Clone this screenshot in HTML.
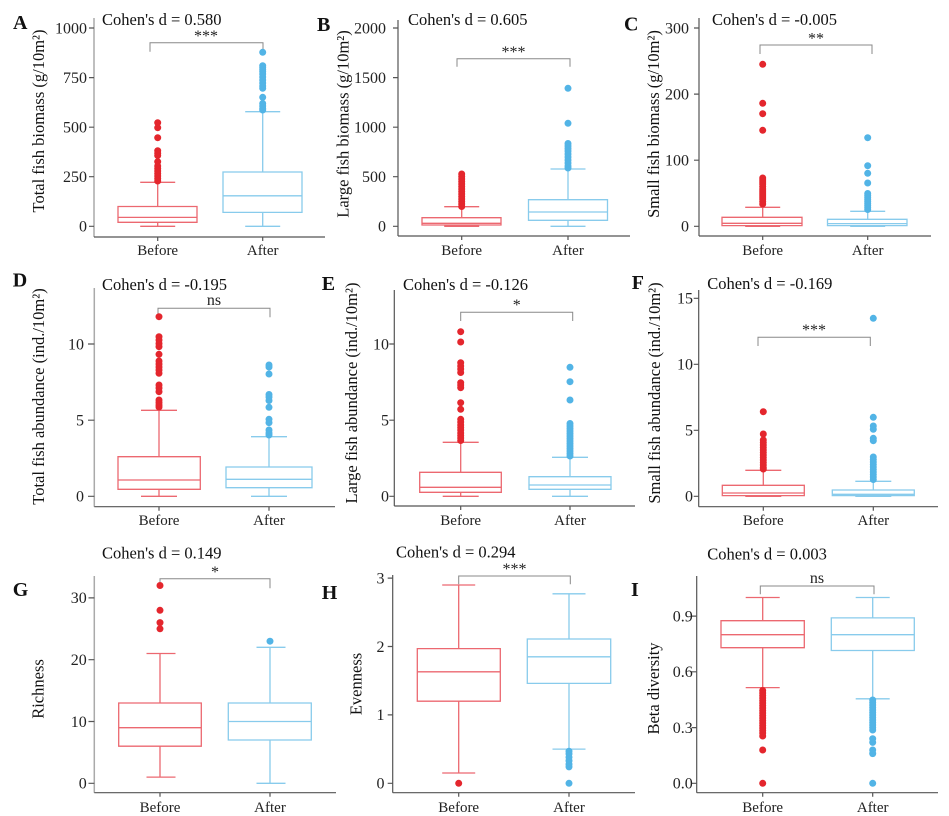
<!DOCTYPE html>
<html><head><meta charset="utf-8"><style>
html,body{margin:0;padding:0;background:#fff;}
svg{display:block;font-family:"Liberation Serif",serif;}
.ax{stroke:#555;stroke-width:1.2;fill:none}
.axl{stroke:#aaa;stroke-width:1.5;fill:none}
.rb{stroke:#ec6870;stroke-width:1.3;fill:none}
.bb{stroke:#88cbec;stroke-width:1.3;fill:none}
.br{stroke:#888;stroke-width:1;fill:none}
.rd circle{fill:#e4262d}
.bd circle{fill:#52b4e6}
.tk{font-size:16px;fill:#222;text-anchor:end}
.ct{font-size:15px;fill:#222;text-anchor:middle}
.yl{font-size:16.5px;fill:#111;text-anchor:middle}
.co{font-size:16.5px;fill:#111}
.pl{font-size:20px;font-weight:bold;fill:#111}
.sg{font-size:16px;fill:#222;text-anchor:middle}
</style></head><body>
<svg width="949" height="816" viewBox="0 0 949 816" xmlns="http://www.w3.org/2000/svg">
<rect width="949" height="816" fill="#fff"/>

<!-- ===== Panel A ===== -->
<text class="pl" x="13" y="29">A</text>
<text class="co" x="102" y="25">Cohen's d = 0.580</text>
<text class="yl" transform="translate(44,121) rotate(-90)">Total fish biomass (g/10m²)</text>
<path class="axl" d="M94 18V237"/>
<path class="ax" d="M94 237H325 M157.7 237V241 M262.7 237V241 M89 226.3H94 M89 176.7H94 M89 127.2H94 M89 77.6H94 M89 28H94"/>
<text class="tk" x="87" y="231.6">0</text>
<text class="tk" x="87" y="182">250</text>
<text class="tk" x="87" y="132.5">500</text>
<text class="tk" x="87" y="82.9">750</text>
<text class="tk" x="87" y="33.3">1000</text>
<text class="ct" x="157.7" y="255">Before</text>
<text class="ct" x="262.7" y="255">After</text>
<path class="br" d="M150 51.7V42.7H263V51.7"/>
<text class="sg" x="206" y="41">***</text>
<path class="rb" d="M118 206.5H197V222.3H118Z M118 217.4H197 M157.7 206.5V182.3 M157.7 222.3V226.3 M140.2 182.3H175.2 M140.2 226.3H175.2"/>
<path class="bb" d="M223 172H302V212.4H223Z M223 195.8H302 M262.7 172V111.7 M262.7 212.4V226.3 M245.2 111.7H280.2 M245.2 226.3H280.2"/>
<g class="rd"><circle cx="157.7" cy="122.7" r="3.5"/><circle cx="157.7" cy="127.7" r="3.5"/><circle cx="157.7" cy="137.7" r="3.5"/><circle cx="157.7" cy="150.7" r="3.5"/><circle cx="157.7" cy="153.3" r="3.5"/><circle cx="157.7" cy="155.5" r="3.5"/><circle cx="157.7" cy="161.7" r="3.5"/><circle cx="157.7" cy="166" r="3.5"/><circle cx="157.7" cy="168.5" r="3.5"/><circle cx="157.7" cy="171" r="3.5"/><circle cx="157.7" cy="173.5" r="3.5"/><circle cx="157.7" cy="176" r="3.5"/><circle cx="157.7" cy="178.5" r="3.5"/><circle cx="157.7" cy="181" r="3.5"/></g>
<g class="bd"><circle cx="262.7" cy="52.3" r="3.5"/><circle cx="262.7" cy="65.7" r="3.5"/><circle cx="262.7" cy="67.5" r="3.5"/><circle cx="262.7" cy="69.5" r="3.5"/><circle cx="262.7" cy="71.5" r="3.5"/><circle cx="262.7" cy="74" r="3.5"/><circle cx="262.7" cy="77" r="3.5"/><circle cx="262.7" cy="80" r="3.5"/><circle cx="262.7" cy="83" r="3.5"/><circle cx="262.7" cy="86" r="3.5"/><circle cx="262.7" cy="88.3" r="3.5"/><circle cx="262.7" cy="97.3" r="3.5"/><circle cx="262.7" cy="103.5" r="3.5"/><circle cx="262.7" cy="106" r="3.5"/><circle cx="262.7" cy="108.5" r="3.5"/><circle cx="262.7" cy="110" r="3.5"/></g>

<!-- ===== Panel B ===== -->
<text class="pl" x="317" y="31">B</text>
<text class="co" x="408" y="25">Cohen's d = 0.605</text>
<text class="yl" transform="translate(348.5,124) rotate(-90)">Large fish biomass (g/10m²)</text>
<path class="ax" d="M398 20V236 M398 236H630 M461.7 236V240 M568 236V240 M393 226.3H398 M393 176.7H398 M393 127.2H398 M393 77.6H398 M393 28H398"/>
<text class="tk" x="386" y="231.6">0</text>
<text class="tk" x="386" y="182">500</text>
<text class="tk" x="386" y="132.5">1000</text>
<text class="tk" x="386" y="82.9">1500</text>
<text class="tk" x="386" y="33.3">2000</text>
<text class="ct" x="461.7" y="255">Before</text>
<text class="ct" x="568" y="255">After</text>
<path class="br" d="M457 66.7V58.7H570V66.7"/>
<text class="sg" x="513.5" y="57">***</text>
<path class="rb" d="M422 217.7H501V225H422Z M422 223.3H501 M461.7 217.7V206.7 M461.7 225V226.3 M444.2 206.7H479.2 M444.2 226.3H479.2"/>
<path class="bb" d="M528.5 199.7H607.5V220.3H528.5Z M528.5 212H607.5 M568 199.7V169 M568 220.3V226.3 M550.5 169H585.5 M550.5 226.3H585.5"/>
<g class="rd"><circle cx="461.7" cy="174" r="3.5"/><circle cx="461.7" cy="176.5" r="3.5"/><circle cx="461.7" cy="179" r="3.5"/><circle cx="461.7" cy="181.5" r="3.5"/><circle cx="461.7" cy="184" r="3.5"/><circle cx="461.7" cy="186.5" r="3.5"/><circle cx="461.7" cy="189" r="3.5"/><circle cx="461.7" cy="191.5" r="3.5"/><circle cx="461.7" cy="194" r="3.5"/><circle cx="461.7" cy="196.5" r="3.5"/><circle cx="461.7" cy="199" r="3.5"/><circle cx="461.7" cy="201.5" r="3.5"/><circle cx="461.7" cy="204" r="3.5"/><circle cx="461.7" cy="206.5" r="3.5"/></g>
<g class="bd"><circle cx="568" cy="88.3" r="3.5"/><circle cx="568" cy="123.3" r="3.5"/><circle cx="568" cy="143.5" r="3.5"/><circle cx="568" cy="146" r="3.5"/><circle cx="568" cy="148.5" r="3.5"/><circle cx="568" cy="151" r="3.5"/><circle cx="568" cy="154" r="3.5"/><circle cx="568" cy="157" r="3.5"/><circle cx="568" cy="160" r="3.5"/><circle cx="568" cy="163" r="3.5"/><circle cx="568" cy="166" r="3.5"/><circle cx="568" cy="168" r="3.5"/></g>

<!-- ===== Panel C ===== -->
<text class="pl" x="624" y="30.5">C</text>
<text class="co" x="712" y="25">Cohen's d = -0.005</text>
<text class="yl" transform="translate(659,124) rotate(-90)">Small fish biomass (g/10m²)</text>
<path class="ax" d="M699 18V236 M699 236H931 M762.7 236V240 M867.7 236V240 M694 226.3H699 M694 160.2H699 M694 94.1H699 M694 28H699"/>
<text class="tk" x="689" y="231.6">0</text>
<text class="tk" x="689" y="165.5">100</text>
<text class="tk" x="689" y="99.4">200</text>
<text class="tk" x="689" y="33.3">300</text>
<text class="ct" x="762.7" y="255">Before</text>
<text class="ct" x="867.7" y="255">After</text>
<path class="br" d="M760 54V45H872V54"/>
<text class="sg" x="816" y="43.5">**</text>
<path class="rb" d="M722 217.3H802V225.6H722Z M722 223.3H802 M762.7 217.3V207.3 M762.7 225.6V226.3 M745.2 207.3H780.2 M745.2 226.3H780.2"/>
<path class="bb" d="M827.5 219.3H907V225.6H827.5Z M827.5 223.6H907 M867.7 219.3V211.3 M867.7 225.6V226.3 M850.2 211.3H885.2 M850.2 226.3H885.2"/>
<g class="rd"><circle cx="762.7" cy="64.3" r="3.5"/><circle cx="762.7" cy="103.3" r="3.5"/><circle cx="762.7" cy="113.7" r="3.5"/><circle cx="762.7" cy="130.3" r="3.5"/><circle cx="762.7" cy="178" r="3.5"/><circle cx="762.7" cy="180" r="3.5"/><circle cx="762.7" cy="182" r="3.5"/><circle cx="762.7" cy="184" r="3.5"/><circle cx="762.7" cy="186.5" r="3.5"/><circle cx="762.7" cy="189" r="3.5"/><circle cx="762.7" cy="191" r="3.5"/><circle cx="762.7" cy="193" r="3.5"/><circle cx="762.7" cy="195" r="3.5"/><circle cx="762.7" cy="197" r="3.5"/><circle cx="762.7" cy="199" r="3.5"/><circle cx="762.7" cy="201.5" r="3.5"/><circle cx="762.7" cy="204" r="3.5"/></g>
<g class="bd"><circle cx="867.7" cy="137.7" r="3.5"/><circle cx="867.7" cy="165.7" r="3.5"/><circle cx="867.7" cy="173.3" r="3.5"/><circle cx="867.7" cy="183" r="3.5"/><circle cx="867.7" cy="193.5" r="3.5"/><circle cx="867.7" cy="195.5" r="3.5"/><circle cx="867.7" cy="197.5" r="3.5"/><circle cx="867.7" cy="199.5" r="3.5"/><circle cx="867.7" cy="201.5" r="3.5"/><circle cx="867.7" cy="203.5" r="3.5"/><circle cx="867.7" cy="205.5" r="3.5"/><circle cx="867.7" cy="207.5" r="3.5"/><circle cx="867.7" cy="209.5" r="3.5"/></g>

<!-- ===== Panel D ===== -->
<text class="pl" x="12.7" y="286.7">D</text>
<text class="co" x="102" y="290">Cohen's d = -0.195</text>
<text class="yl" transform="translate(44,396.5) rotate(-90)">Total fish abundance (ind./10m²)</text>
<path class="axl" d="M94.3 288V506.7"/>
<path class="ax" d="M94.3 506.7H335 M159 506.7V510.7 M269 506.7V510.7 M88 496.3H94.3 M88 420.2H94.3 M88 344H94.3"/>
<text class="tk" x="84" y="501.6">0</text>
<text class="tk" x="84" y="425.5">5</text>
<text class="tk" x="84" y="349.3">10</text>
<text class="ct" x="159" y="525">Before</text>
<text class="ct" x="269" y="525">After</text>
<path class="br" d="M158 317.3V308.3H270V317.3"/>
<text class="sg" x="214" y="305">ns</text>
<path class="rb" d="M118 456.7H200.3V489.3H118Z M118 480H200.3 M159 456.7V410.3 M159 489.3V496.3 M141 410.3H177 M141 496.3H177"/>
<path class="bb" d="M226 467H312V487.7H226Z M226 479.3H312 M269 467V436.7 M269 487.7V496.3 M251 436.7H287 M251 496.3H287"/>
<g class="rd"><circle cx="159" cy="316.7" r="3.5"/><circle cx="159" cy="336.7" r="3.5"/><circle cx="159" cy="340" r="3.5"/><circle cx="159" cy="343.5" r="3.5"/><circle cx="159" cy="346.7" r="3.5"/><circle cx="159" cy="354.3" r="3.5"/><circle cx="159" cy="361" r="3.5"/><circle cx="159" cy="364" r="3.5"/><circle cx="159" cy="367" r="3.5"/><circle cx="159" cy="370" r="3.5"/><circle cx="159" cy="373.3" r="3.5"/><circle cx="159" cy="385" r="3.5"/><circle cx="159" cy="388" r="3.5"/><circle cx="159" cy="391.7" r="3.5"/><circle cx="159" cy="400" r="3.5"/><circle cx="159" cy="402.5" r="3.5"/><circle cx="159" cy="405" r="3.5"/><circle cx="159" cy="407" r="3.5"/></g>
<g class="bd"><circle cx="269" cy="365" r="3.5"/><circle cx="269" cy="367" r="3.5"/><circle cx="269" cy="374" r="3.5"/><circle cx="269" cy="394.5" r="3.5"/><circle cx="269" cy="397" r="3.5"/><circle cx="269" cy="400.5" r="3.5"/><circle cx="269" cy="407.3" r="3.5"/><circle cx="269" cy="419.3" r="3.5"/><circle cx="269" cy="422.7" r="3.5"/><circle cx="269" cy="430" r="3.5"/><circle cx="269" cy="433" r="3.5"/><circle cx="269" cy="435" r="3.5"/></g>

<!-- ===== Panel E ===== -->
<text class="pl" x="321.7" y="290">E</text>
<text class="co" x="403" y="290">Cohen's d = -0.126</text>
<text class="yl" transform="translate(357,393) rotate(-90)">Large fish abundance  (ind./10m²)</text>
<path class="ax" d="M394.3 290V506 M394.3 506H635 M460.7 506V510 M570 506V510 M389.3 496.3H394.3 M389.3 420.2H394.3 M389.3 344H394.3"/>
<text class="tk" x="389" y="501.6">0</text>
<text class="tk" x="389" y="425.5">5</text>
<text class="tk" x="389" y="349.3">10</text>
<text class="ct" x="460.7" y="525">Before</text>
<text class="ct" x="570" y="525">After</text>
<path class="br" d="M460.7 321V312.3H572.7V321"/>
<text class="sg" x="516.7" y="310">*</text>
<path class="rb" d="M419.7 472.3H501.3V492.3H419.7Z M419.7 487.3H501.3 M460.7 472.3V442.3 M460.7 492.3V496.3 M442.7 442.3H478.7 M442.7 496.3H478.7"/>
<path class="bb" d="M529 476.7H611V489.3H529Z M529 485H611 M570 476.7V457.3 M570 489.3V496.3 M552 457.3H588 M552 496.3H588"/>
<g class="rd"><circle cx="460.7" cy="331.7" r="3.5"/><circle cx="460.7" cy="342" r="3.5"/><circle cx="460.7" cy="362.7" r="3.5"/><circle cx="460.7" cy="366" r="3.5"/><circle cx="460.7" cy="369" r="3.5"/><circle cx="460.7" cy="372.5" r="3.5"/><circle cx="460.7" cy="382.7" r="3.5"/><circle cx="460.7" cy="385" r="3.5"/><circle cx="460.7" cy="387.7" r="3.5"/><circle cx="460.7" cy="402.7" r="3.5"/><circle cx="460.7" cy="409.3" r="3.5"/><circle cx="460.7" cy="419.3" r="3.5"/><circle cx="460.7" cy="422" r="3.5"/><circle cx="460.7" cy="425" r="3.5"/><circle cx="460.7" cy="427.5" r="3.5"/><circle cx="460.7" cy="430" r="3.5"/><circle cx="460.7" cy="433" r="3.5"/><circle cx="460.7" cy="435.5" r="3.5"/><circle cx="460.7" cy="438" r="3.5"/><circle cx="460.7" cy="440.5" r="3.5"/></g>
<g class="bd"><circle cx="570" cy="367.3" r="3.5"/><circle cx="570" cy="381.7" r="3.5"/><circle cx="570" cy="400" r="3.5"/><circle cx="570" cy="423.5" r="3.5"/><circle cx="570" cy="426" r="3.5"/><circle cx="570" cy="428.5" r="3.5"/><circle cx="570" cy="431" r="3.5"/><circle cx="570" cy="433.5" r="3.5"/><circle cx="570" cy="436" r="3.5"/><circle cx="570" cy="438.5" r="3.5"/><circle cx="570" cy="441" r="3.5"/><circle cx="570" cy="443.5" r="3.5"/><circle cx="570" cy="446" r="3.5"/><circle cx="570" cy="448.5" r="3.5"/><circle cx="570" cy="451" r="3.5"/><circle cx="570" cy="453.5" r="3.5"/><circle cx="570" cy="456" r="3.5"/></g>

<!-- ===== Panel F ===== -->
<text class="pl" x="631.7" y="289">F</text>
<text class="co" x="707.3" y="289">Cohen's d = -0.169</text>
<text class="yl" transform="translate(660,393) rotate(-90)">Small fish abundance  (ind./10m²)</text>
<path class="ax" d="M698.7 290V506.7 M698.7 506.7H938 M763.3 506.7V510.7 M873.3 506.7V510.7 M693.7 496.3H698.7 M693.7 430.3H698.7 M693.7 364.3H698.7 M693.7 298.3H698.7"/>
<text class="tk" x="693" y="501.6">0</text>
<text class="tk" x="693" y="435.6">5</text>
<text class="tk" x="693" y="369.6">10</text>
<text class="tk" x="693" y="303.6">15</text>
<text class="ct" x="763.3" y="525">Before</text>
<text class="ct" x="873.3" y="525">After</text>
<path class="br" d="M758 346V337.3H870.3V346"/>
<text class="sg" x="814" y="335">***</text>
<path class="rb" d="M722.3 485.3H804.3V495.6H722.3Z M722.3 493H804.3 M763.3 485.3V470.3 M763.3 495.6V496.3 M745.3 470.3H781.3 M745.3 496.3H781.3"/>
<path class="bb" d="M832.3 490H914.3V495.6H832.3Z M832.3 494.3H914.3 M873.3 490V481.3 M873.3 495.6V496.3 M855.3 481.3H891.3 M855.3 496.3H891.3"/>
<g class="rd"><circle cx="763.3" cy="411.7" r="3.5"/><circle cx="763.3" cy="434" r="3.5"/><circle cx="763.3" cy="440" r="3.5"/><circle cx="763.3" cy="442.5" r="3.5"/><circle cx="763.3" cy="445" r="3.5"/><circle cx="763.3" cy="447.5" r="3.5"/><circle cx="763.3" cy="450" r="3.5"/><circle cx="763.3" cy="452.5" r="3.5"/><circle cx="763.3" cy="455" r="3.5"/><circle cx="763.3" cy="457.5" r="3.5"/><circle cx="763.3" cy="460" r="3.5"/><circle cx="763.3" cy="462.5" r="3.5"/><circle cx="763.3" cy="465" r="3.5"/><circle cx="763.3" cy="467.5" r="3.5"/><circle cx="763.3" cy="469" r="3.5"/></g>
<g class="bd"><circle cx="873.3" cy="318.3" r="3.5"/><circle cx="873.3" cy="417.3" r="3.5"/><circle cx="873.3" cy="426" r="3.5"/><circle cx="873.3" cy="429.3" r="3.5"/><circle cx="873.3" cy="438.3" r="3.5"/><circle cx="873.3" cy="440.7" r="3.5"/><circle cx="873.3" cy="457" r="3.5"/><circle cx="873.3" cy="459.5" r="3.5"/><circle cx="873.3" cy="462" r="3.5"/><circle cx="873.3" cy="464.5" r="3.5"/><circle cx="873.3" cy="467" r="3.5"/><circle cx="873.3" cy="469.5" r="3.5"/><circle cx="873.3" cy="472" r="3.5"/><circle cx="873.3" cy="474.5" r="3.5"/><circle cx="873.3" cy="477" r="3.5"/><circle cx="873.3" cy="479.5" r="3.5"/></g>

<!-- ===== Panel G ===== -->
<text class="pl" x="12.7" y="596">G</text>
<text class="co" x="102" y="558.7">Cohen's d = 0.149</text>
<text class="yl" transform="translate(43.3,689) rotate(-90)">Richness</text>
<path class="axl" d="M94.3 576V792.7"/>
<path class="ax" d="M94.3 792.7H336 M160 792.7V796.7 M270 792.7V796.7 M88.5 783.3H94.3 M88.5 721.5H94.3 M88.5 659.7H94.3 M88.5 597.9H94.3"/>
<text class="tk" x="86.7" y="788.6">0</text>
<text class="tk" x="86.7" y="726.8">10</text>
<text class="tk" x="86.7" y="665">20</text>
<text class="tk" x="86.7" y="603.2">30</text>
<text class="ct" x="160" y="812">Before</text>
<text class="ct" x="270" y="812">After</text>
<path class="br" d="M160 588.3V578.7H270V588.3"/>
<text class="sg" x="215" y="577">*</text>
<path class="rb" d="M118.7 703H201.3V746.2H118.7Z M118.7 727.7H201.3 M160 703V653.5 M160 746.2V777.1 M146.5 653.5H175.5 M146.5 777.1H175.5"/>
<path class="bb" d="M228.3 703H311.3V740H228.3Z M228.3 721.5H311.3 M270 703V647.3 M270 740V783.3 M256.5 647.3H285.5 M256.5 783.3H285.5"/>
<g class="rd"><circle cx="160" cy="585.5" r="3.5"/><circle cx="160" cy="610.3" r="3.5"/><circle cx="160" cy="622.6" r="3.5"/><circle cx="160" cy="628.8" r="3.5"/></g>
<g class="bd"><circle cx="270" cy="641.2" r="3.5"/></g>

<!-- ===== Panel H ===== -->
<text class="pl" x="321.7" y="599">H</text>
<text class="co" x="396" y="557.7">Cohen's d = 0.294</text>
<text class="yl" transform="translate(361.5,684) rotate(-90)">Evenness</text>
<path class="ax" d="M392.7 575V792.7 M392.7 792.7H635 M458.7 792.7V796.7 M569 792.7V796.7 M387.7 783.3H392.7 M387.7 714.9H392.7 M387.7 646.5H392.7 M387.7 578.1H392.7"/>
<text class="tk" x="384.5" y="788.6">0</text>
<text class="tk" x="384.5" y="720.2">1</text>
<text class="tk" x="384.5" y="651.8">2</text>
<text class="tk" x="384.5" y="583.4">3</text>
<text class="ct" x="458.7" y="812">Before</text>
<text class="ct" x="569" y="812">After</text>
<path class="br" d="M458.7 584.3V576H570.3V584.3"/>
<text class="sg" x="514.5" y="574">***</text>
<path class="rb" d="M417.3 648.6H500.3V701.2H417.3Z M417.3 671.8H500.3 M458.7 648.6V585 M458.7 701.2V773 M442.2 585H475.2 M442.2 773H475.2"/>
<path class="bb" d="M527.3 639H610.7V683.4H527.3Z M527.3 656.8H610.7 M569 639V593.8 M569 683.4V749.1 M552.5 593.8H585.5 M552.5 749.1H585.5"/>
<g class="rd"><circle cx="458.7" cy="783.3" r="3.5"/></g>
<g class="bd"><circle cx="569" cy="751.2" r="3.5"/><circle cx="569" cy="753.9" r="3.5"/><circle cx="569" cy="757.3" r="3.5"/><circle cx="569" cy="760.7" r="3.5"/><circle cx="569" cy="764.2" r="3.5"/><circle cx="569" cy="766.9" r="3.5"/><circle cx="569" cy="783.3" r="3.5"/></g>

<!-- ===== Panel I ===== -->
<text class="pl" x="631" y="596">I</text>
<text class="co" x="707.3" y="559.3">Cohen's d = 0.003</text>
<text class="yl" transform="translate(659,688.5) rotate(-90)">Beta diversity</text>
<path class="ax" d="M696.7 576V792.7 M696.7 792.7H938 M762.7 792.7V796.7 M872.7 792.7V796.7 M691.7 783.3H696.7 M691.7 727.6H696.7 M691.7 671.8H696.7 M691.7 616.1H696.7"/>
<text class="tk" x="692.7" y="788.6">0.0</text>
<text class="tk" x="692.7" y="732.9">0.3</text>
<text class="tk" x="692.7" y="677.1">0.6</text>
<text class="tk" x="692.7" y="621.4">0.9</text>
<text class="ct" x="762.7" y="812">Before</text>
<text class="ct" x="872.7" y="812">After</text>
<path class="br" d="M760.3 594.3V586H874V594.3"/>
<text class="sg" x="817" y="583">ns</text>
<path class="rb" d="M721 620.7H804.3V647.7H721Z M721 634.7H804.3 M762.7 620.7V597.5 M762.7 647.7V687.6 M745.7 597.5H779.7 M745.7 687.6H779.7"/>
<path class="bb" d="M831.3 617.9H914.3V650.5H831.3Z M831.3 634.7H914.3 M872.7 617.9V597.5 M872.7 650.5V698.8 M855.7 597.5H889.7 M855.7 698.8H889.7"/>
<g class="rd"><circle cx="762.7" cy="690.5" r="3.5"/><circle cx="762.7" cy="693" r="3.5"/><circle cx="762.7" cy="695.5" r="3.5"/><circle cx="762.7" cy="698" r="3.5"/><circle cx="762.7" cy="700.5" r="3.5"/><circle cx="762.7" cy="703" r="3.5"/><circle cx="762.7" cy="705.5" r="3.5"/><circle cx="762.7" cy="708" r="3.5"/><circle cx="762.7" cy="710.5" r="3.5"/><circle cx="762.7" cy="713" r="3.5"/><circle cx="762.7" cy="715.5" r="3.5"/><circle cx="762.7" cy="718" r="3.5"/><circle cx="762.7" cy="720.5" r="3.5"/><circle cx="762.7" cy="723" r="3.5"/><circle cx="762.7" cy="725.5" r="3.5"/><circle cx="762.7" cy="728" r="3.5"/><circle cx="762.7" cy="730.5" r="3.5"/><circle cx="762.7" cy="733" r="3.5"/><circle cx="762.7" cy="736" r="3.5"/><circle cx="762.7" cy="750" r="3.5"/><circle cx="762.7" cy="783.3" r="3.5"/></g>
<g class="bd"><circle cx="872.7" cy="700" r="3.5"/><circle cx="872.7" cy="702.5" r="3.5"/><circle cx="872.7" cy="705" r="3.5"/><circle cx="872.7" cy="707.5" r="3.5"/><circle cx="872.7" cy="710" r="3.5"/><circle cx="872.7" cy="712.5" r="3.5"/><circle cx="872.7" cy="715" r="3.5"/><circle cx="872.7" cy="717.5" r="3.5"/><circle cx="872.7" cy="720" r="3.5"/><circle cx="872.7" cy="722.5" r="3.5"/><circle cx="872.7" cy="725" r="3.5"/><circle cx="872.7" cy="727.5" r="3.5"/><circle cx="872.7" cy="730" r="3.5"/><circle cx="872.7" cy="738.7" r="3.5"/><circle cx="872.7" cy="742.4" r="3.5"/><circle cx="872.7" cy="750" r="3.5"/><circle cx="872.7" cy="753.6" r="3.5"/><circle cx="872.7" cy="783.3" r="3.5"/></g>
</svg>
</body></html>
